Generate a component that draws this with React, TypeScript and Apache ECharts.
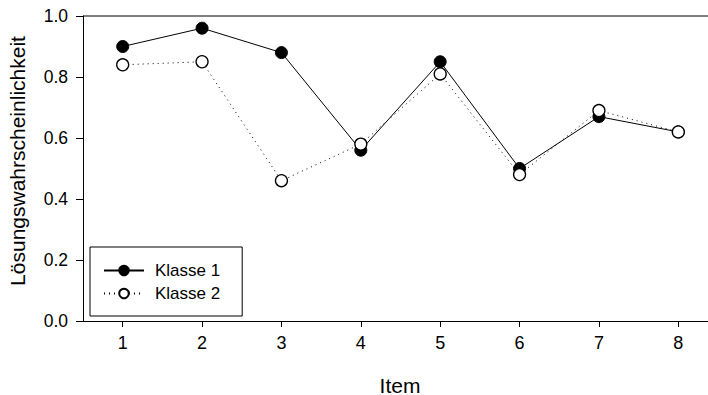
import React, { useEffect, useRef } from "react";
import * as echarts from "echarts";

const items = ["1", "2", "3", "4", "5", "6", "7", "8"];
const klasse1 = [0.9, 0.96, 0.88, 0.56, 0.85, 0.5, 0.67, 0.62];
const klasse2 = [0.84, 0.85, 0.46, 0.58, 0.81, 0.48, 0.69, 0.62];
const yTicks = [0, 0.2, 0.4, 0.6, 0.8, 1.0];

const FONT = "'Liberation Sans', Arial, sans-serif";

export default function App() {
  const ref = useRef<HTMLDivElement>(null);
  useEffect(() => {
    if (!ref.current) return;
    const chart = echarts.init(ref.current, null, { renderer: "svg" });
    chart.setOption({
      animation: false,
      backgroundColor: "#ffffff",
      textStyle: { fontFamily: FONT },
      grid: { left: 83, right: 0, top: 16, bottom: 74, containLabel: false },
      xAxis: {
        type: "category",
        data: items,
        boundaryGap: true,
        axisLine: { show: true, lineStyle: { color: "#000", width: 1 } },
        axisTick: { show: true, alignWithLabel: true, length: 6, inside: false, lineStyle: { color: "#000" } },
        axisLabel: { color: "#000", fontSize: 18, margin: 13, fontFamily: FONT },
        splitLine: { show: false },
      },
      yAxis: {
        type: "value",
        min: yTicks[0],
        max: yTicks[yTicks.length - 1],
        interval: 0.2,
        axisLine: { show: true, lineStyle: { color: "#000", width: 1 } },
        axisTick: { show: true, length: 7, inside: false, lineStyle: { color: "#000" } },
        axisLabel: {
          color: "#000",
          fontSize: 17.5,
          margin: 15,
          fontFamily: FONT,
          formatter: (v: number) => v.toFixed(1),
        },
        splitLine: { show: false },
      },
      legend: {
        orient: "vertical",
        left: 90,
        top: 247,
        padding: [15, 22, 14, 13],
        itemWidth: 40,
        itemHeight: 12,
        itemGap: 6,
        borderColor: "#000",
        borderWidth: 1,
        backgroundColor: "#fff",
        textStyle: { color: "#000", fontSize: 17, fontFamily: FONT, padding: [0, 0, 0, 6] },
        data: ["Klasse 1", "Klasse 2"],
      },
      graphic: [
        {
          type: "line",
          shape: { x1: 83, y1: 16, x2: 718, y2: 16 },
          style: { stroke: "#000", lineWidth: 1 },
          z: 10,
        },
        {
          type: "text",
          x: 17,
          y: 161,
          rotation: Math.PI / 2,
          style: {
            text: "Lösungswahrscheinlichkeit",
            fill: "#000",
            font: `21px ${FONT}`,
            textAlign: "center",
            textVerticalAlign: "middle",
          },
        },
        {
          type: "text",
          x: 400,
          y: 385,
          style: {
            text: "Item",
            fill: "#000",
            font: `21px ${FONT}`,
            textAlign: "center",
            textVerticalAlign: "middle",
          },
        },
      ],
      series: [
        {
          name: "Klasse 1",
          type: "line",
          data: klasse1,
          symbol: "circle",
          symbolSize: 12,
          lineStyle: { color: "#000", width: 1, type: "solid" },
          itemStyle: { color: "#000", borderColor: "#000", borderWidth: 1 },
          z: 2,
        },
        {
          name: "Klasse 2",
          type: "line",
          data: klasse2,
          symbol: "circle",
          symbolSize: 12,
          lineStyle: { color: "#000", width: 1, type: [1, 4] },
          itemStyle: { color: "#fff", borderColor: "#000", borderWidth: 1.3 },
          z: 3,
        },
      ],
    });
    return () => chart.dispose();
  }, []);
  return (
    <div style={{ position: "fixed", left: 0, top: 0, width: 708, height: 395, overflow: "hidden", background: "#fff" }}>
      <div ref={ref} style={{ width: 718, height: 395 }} />
    </div>
  );
}
